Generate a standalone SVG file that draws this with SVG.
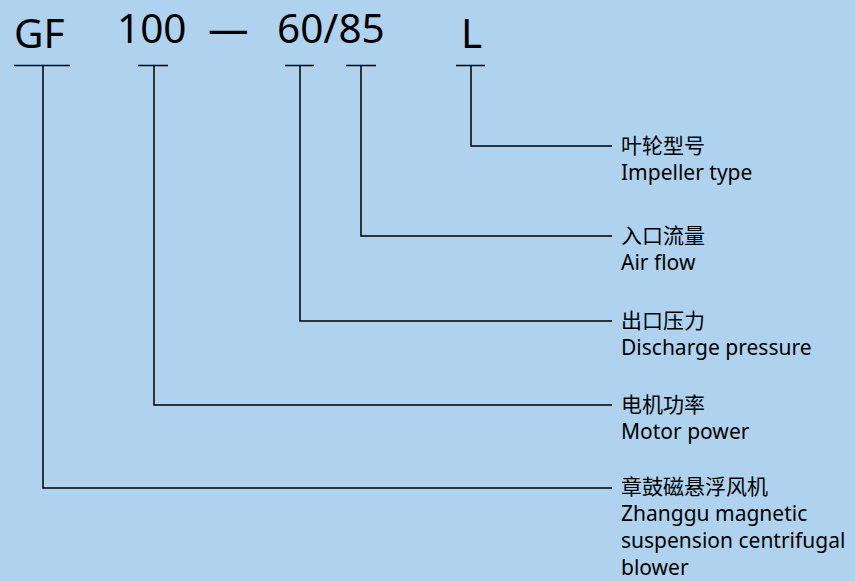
<svg xmlns="http://www.w3.org/2000/svg" width="855" height="581" viewBox="0 0 855 581">
<style>
.code{font-family:"Noto Sans","Open Sans",sans-serif;font-size:40.5px;fill:#000}
.cn{font-family:"Noto Sans CJK SC",sans-serif;font-size:21px;fill:#000}
.en{font-family:"Noto Sans","Open Sans",sans-serif;font-size:21px;fill:#000}
.ln{stroke:#000;stroke-width:1.5;fill:none}
</style>
<rect width="855" height="581" fill="#afd3ee"/>
<g id="code">
<text class="code" x="14" y="48">GF</text>
<text class="code" x="117" y="43">100</text>
<text class="code" x="208" y="43">—</text>
<text class="code" x="277" y="43">60/85</text>
<text class="code" x="461" y="48">L</text>
</g>
<g id="connectors">
<path class="ln" d="M14 65.5H70M43 65.5V488H612"/>
<path class="ln" d="M138 65.5H168M154 65.5V405H612"/>
<path class="ln" d="M285 65.5H314M300 65.5V321H612"/>
<path class="ln" d="M346 65.5H376M361 65.5V236H612"/>
<path class="ln" d="M456 65.5H485M471 65.5V146H612"/>
</g>
<g id="impeller">
<text class="cn" x="621" y="153">叶轮型号</text>
<text class="en" x="621" y="180">Impeller type</text>
</g>
<g id="flow">
<text class="cn" x="621" y="243">入口流量</text>
<text class="en" x="621" y="270">Air flow</text>
</g>
<g id="pressure">
<text class="cn" x="621" y="328">出口压力</text>
<text class="en" x="621" y="355">Discharge pressure</text>
</g>
<g id="power">
<text class="cn" x="621" y="412">电机功率</text>
<text class="en" x="621" y="439">Motor power</text>
</g>
<g id="blower">
<text class="cn" x="621" y="494">章鼓磁悬浮风机</text>
<text class="en" x="621" y="521">Zhanggu magnetic</text>
<text class="en" x="621" y="548">suspension centrifugal</text>
<text class="en" x="621" y="575">blower</text>
</g>
</svg>
